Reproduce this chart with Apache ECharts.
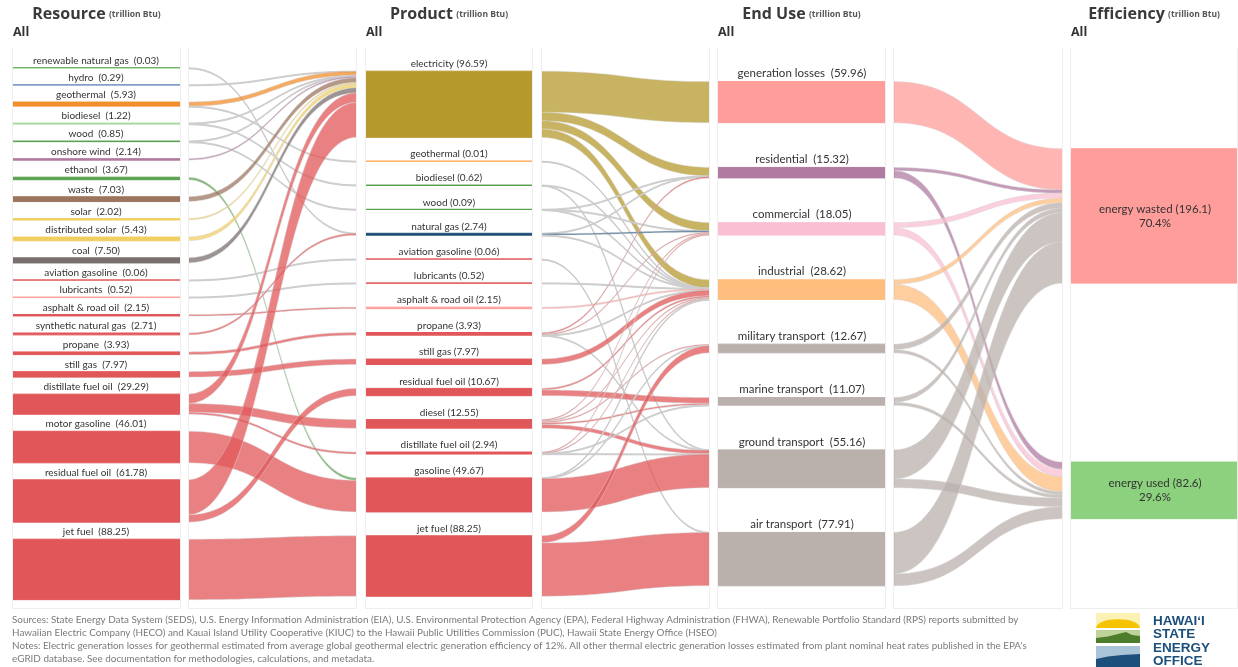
<!DOCTYPE html>
<html>
<head>
<meta charset="utf-8">
<title>Hawaii energy flows</title>
<script src="https://cdn.jsdelivr.net/npm/echarts@6/dist/echarts.min.js"></script>
<style>
  html, body { margin: 0; padding: 0; background: #fff; }
  #chart { width: 1238px; height: 667px; }
</style>
</head>
<body>
<div id="chart"></div>
<script>
// ---- data (trillion Btu) ----
const resourceNames = ['renewable natural gas', 'hydro', 'geothermal', 'biodiesel', 'wood', 'onshore wind', 'ethanol',
  'waste', 'solar', 'distributed solar', 'coal', 'aviation gasoline', 'lubricants', 'asphalt & road oil',
  'synthetic natural gas', 'propane', 'still gas', 'distillate fuel oil', 'motor gasoline', 'residual fuel oil', 'jet fuel'];
const resourceValues = [0.03, 0.29, 5.93, 1.22, 0.85, 2.14, 3.67, 7.03, 2.02, 5.43, 7.50, 0.06, 0.52, 2.15,
  2.71, 3.93, 7.97, 29.29, 46.01, 61.78, 88.25];

const productNames = ['electricity', 'geothermal', 'biodiesel', 'wood', 'natural gas', 'aviation gasoline', 'lubricants',
  'asphalt & road oil', 'propane', 'still gas', 'residual fuel oil', 'diesel', 'distillate fuel oil', 'gasoline', 'jet fuel'];
const productValues = [96.59, 0.01, 0.62, 0.09, 2.74, 0.06, 0.52, 2.15, 3.93, 7.97, 10.67, 12.55, 2.94, 49.67, 88.25];

const endUseNames = ['generation losses', 'residential', 'commercial', 'industrial', 'military transport',
  'marine transport', 'ground transport', 'air transport'];
const endUseValues = [59.96, 15.32, 18.05, 28.62, 12.67, 11.07, 55.16, 77.91];

const efficiencyNames = ['energy wasted', 'energy used'];
const efficiencyValues = [196.1, 82.6];
const efficiencyShares = ['70.4%', '29.6%'];

const resourceToProduct = [
  ['renewable natural gas', 'natural gas', 0.03],
  ['hydro', 'electricity', 0.29],
  ['geothermal', 'electricity', 5.92],
  ['geothermal', 'geothermal', 0.01],
  ['biodiesel', 'electricity', 0.60],
  ['biodiesel', 'biodiesel', 0.62],
  ['wood', 'electricity', 0.76],
  ['wood', 'wood', 0.09],
  ['onshore wind', 'electricity', 2.14],
  ['ethanol', 'gasoline', 3.67],
  ['waste', 'electricity', 7.03],
  ['solar', 'electricity', 2.02],
  ['distributed solar', 'electricity', 5.43],
  ['coal', 'electricity', 7.50],
  ['aviation gasoline', 'aviation gasoline', 0.06],
  ['lubricants', 'lubricants', 0.52],
  ['asphalt & road oil', 'asphalt & road oil', 2.15],
  ['synthetic natural gas', 'natural gas', 2.71],
  ['propane', 'propane', 3.93],
  ['still gas', 'still gas', 7.97],
  ['distillate fuel oil', 'electricity', 13.80],
  ['distillate fuel oil', 'diesel', 12.55],
  ['distillate fuel oil', 'distillate fuel oil', 2.94],
  ['motor gasoline', 'gasoline', 46.00],
  ['residual fuel oil', 'electricity', 51.10],
  ['residual fuel oil', 'residual fuel oil', 10.67],
  ['jet fuel', 'jet fuel', 88.25]
];

const productToEndUse = [
  ['electricity', 'generation losses', 59.96],
  ['electricity', 'residential', 12.5],
  ['electricity', 'commercial', 11.9],
  ['electricity', 'industrial', 12.23],
  ['geothermal', 'industrial', 0.01],
  ['biodiesel', 'industrial', 0.12],
  ['biodiesel', 'ground transport', 0.5],
  ['wood', 'residential', 0.02],
  ['wood', 'commercial', 0.05],
  ['wood', 'industrial', 0.02],
  ['natural gas', 'residential', 0.6],
  ['natural gas', 'commercial', 1.9],
  ['natural gas', 'industrial', 0.24],
  ['aviation gasoline', 'air transport', 0.06],
  ['lubricants', 'industrial', 0.52],
  ['asphalt & road oil', 'industrial', 2.15],
  ['propane', 'residential', 2.2],
  ['propane', 'commercial', 1.6],
  ['propane', 'industrial', 0.1],
  ['propane', 'ground transport', 0.03],
  ['still gas', 'industrial', 7.97],
  ['residual fuel oil', 'industrial', 2.4],
  ['residual fuel oil', 'marine transport', 8.27],
  ['diesel', 'commercial', 1.6],
  ['diesel', 'industrial', 1.5],
  ['diesel', 'military transport', 1.67],
  ['diesel', 'marine transport', 2.4],
  ['diesel', 'ground transport', 5.38],
  ['distillate fuel oil', 'commercial', 1.0],
  ['distillate fuel oil', 'industrial', 1.0],
  ['distillate fuel oil', 'marine transport', 0.4],
  ['distillate fuel oil', 'ground transport', 0.54],
  ['gasoline', 'industrial', 0.36],
  ['gasoline', 'military transport', 0.6],
  ['gasoline', 'ground transport', 48.71],
  ['jet fuel', 'military transport', 10.4],
  ['jet fuel', 'air transport', 77.85]
];

const endUseToEfficiency = [
  ['generation losses', 'energy wasted', 59.96],
  ['residential', 'energy wasted', 4.82],
  ['residential', 'energy used', 10.5],
  ['commercial', 'energy wasted', 7.3],
  ['commercial', 'energy used', 10.75],
  ['industrial', 'energy wasted', 6.5],
  ['industrial', 'energy used', 22.12],
  ['military transport', 'energy wasted', 8.07],
  ['military transport', 'energy used', 4.6],
  ['marine transport', 'energy wasted', 6.67],
  ['marine transport', 'energy used', 4.4],
  ['ground transport', 'energy wasted', 42.43],
  ['ground transport', 'energy used', 12.73],
  ['air transport', 'energy wasted', 60.41],
  ['air transport', 'energy used', 17.5]
];

// ---- colours ----
const RED = '#e15759';
const resourceColors = ['#6aaf5e', '#6f93c0', '#f28e2b', '#a3d39c', '#59a14f', '#b07aa1', '#59a14f',
  '#9c755f', '#f1ce63', '#f1ce63', '#79706e', RED, '#ff9d9a', RED, RED, RED, RED, RED, RED, RED, RED];
const productColors = ['#b6992d', '#ffa95a', '#59a14f', '#59a14f', '#1f4e79', RED, RED, '#ff9d9a',
  RED, RED, RED, RED, RED, RED, RED];
const endUseColors = ['#ff9d9a', '#b07aa1', '#fabfd2', '#ffbe7d', '#bab0ac', '#bab0ac', '#bab0ac', '#bab0ac'];
const efficiencyColors = ['#ff9d9a', '#8cd17d'];
const THIN_LINK = '#cdcdcd';   // hairline flows are drawn grey

// ---- layout ----
const W = 1238, H = 667;
const KY = 0.685;        // px per trillion Btu
const MID_Y = 333.7;     // every column is centred on this line
const GAP_BUDGET = 358;  // spacing per column, shared by its nodes
const NODE_W = 184;      // node + gutter; gutters are painted over below

const sum = arr => arr.reduce((a, b) => a + b, 0);
// ECharts scale = (H - (n-1)*gap) / sum of the busiest column -> pick gap so it equals KY
const nodeGap = (H - KY * sum(resourceValues)) / (resourceValues.length - 1);

function columnTops(values) {
  const gap = GAP_BUDGET / values.length;
  const total = sum(values) * KY + gap * (values.length - 1);
  let y = MID_Y - total / 2;
  return values.map(v => { const t = y; y += v * KY + gap; return t; });
}

const columns = [
  { key: 'R', names: resourceNames, values: resourceValues, colors: resourceColors, left: 4, sep: '  ', digits: 2, font: 10 },
  { key: 'P', names: productNames, values: productValues, colors: productColors, left: 357, sep: ' ', digits: 2, font: 10 },
  { key: 'E', names: endUseNames, values: endUseValues, colors: endUseColors, left: 710, sep: '  ', digits: 2, font: 11.5 },
  { key: 'F', names: efficiencyNames, values: efficiencyValues, colors: efficiencyColors, left: 1063, sep: ' ', digits: 1, font: 11.5 }
];

const labelText = {};
const nodes = [];
columns.forEach(col => {
  const tops = columnTops(col.values);
  col.names.forEach((n, i) => {
    const id = col.key + '|' + n;
    let txt = n + col.sep + '(' + col.values[i].toFixed(col.digits) + ')';
    if (col.key === 'F') txt += '\n' + efficiencyShares[i];
    labelText[id] = txt;
    const c = col.colors[i];
    const node = {
      name: id,
      value: col.values[i],
      localX: col.left / W,
      localY: tops[i] / H,
      itemStyle: { color: c, borderColor: c, borderWidth: 1 },
      label: { fontSize: col.font }
    };
    if (col.key === 'F') {
      node.label = { position: 'inside', fontSize: col.font, lineHeight: 14, align: 'center', color: '#333' };
    }
    nodes.push(node);
  });
});

function toLinks(rows, a, b) {
  return rows.map(r => {
    const link = { source: a + '|' + r[0], target: b + '|' + r[1], value: r[2] };
    if (r[2] < 1) {
      link.lineStyle = { color: THIN_LINK, opacity: 1, borderColor: THIN_LINK, borderWidth: 1 };
    }
    return link;
  });
}
const links = [].concat(
  toLinks(resourceToProduct, 'R', 'P'),
  toLinks(productToEndUse, 'P', 'E'),
  toLinks(endUseToEfficiency, 'E', 'F')
);

// ---- decorations: headers, panel frames, footer, logo ----
const panels = [[12, 181], [188, 357], [365, 533], [541, 710], [717, 886], [893, 1063], [1070, 1238]];
const gutters = [[0, 12], [181, 188], [357, 365], [533, 541], [710, 717], [886, 893], [1063, 1070]];
const headers = [['Resource', 96.5, 12], ['Product', 449, 365], ['End Use', 801.5, 717], ['Efficiency', 1154, 1070]];

const graphics = [];
gutters.forEach(g => graphics.push({
  type: 'rect', z: 50, silent: true,
  shape: { x: g[0], y: 40, width: g[1] - g[0], height: 575 },
  style: { fill: '#fff' }
}));
panels.forEach(p => graphics.push({
  type: 'polyline', z: 60, silent: true,
  shape: { points: [[p[0] + 0.5, 48], [p[0] + 0.5, 608.5], [p[1] - 0.5, 608.5], [p[1] - 0.5, 48]] },
  style: { stroke: '#eeeeee', lineWidth: 1, fill: null }
}));
headers.forEach(h => {
  graphics.push({
    type: 'text', z: 60,
    style: {
      x: h[1], y: 22, text: '{h|' + h[0] + '} {s|(trillion Btu)}',
      textAlign: 'center', align: 'center', textVerticalAlign: 'bottom', verticalAlign: 'bottom',
      rich: {
        h: { fontSize: 16, fontWeight: 'bold', fontFamily: 'Open Sans', fill: '#3a3a3a', color: '#3a3a3a', lineHeight: 20, verticalAlign: 'bottom' },
        s: { fontSize: 8.5, fontWeight: 'bold', fontFamily: 'Open Sans', fill: '#555', color: '#555', lineHeight: 11, verticalAlign: 'bottom', padding: [0, 0, 3, 0] }
      }
    }
  });
  graphics.push({
    type: 'text', z: 60,
    style: { x: h[2] + 1, y: 32, text: 'All', font: 'bold 12.5px "Open Sans"', fill: '#333',
      textVerticalAlign: 'middle', verticalAlign: 'middle' }
  });
});

const footer = [
  'Sources: State Energy Data System (SEDS), U.S. Energy Information Administration (EIA), U.S. Environmental Protection Agency (EPA), Federal Highway Administration (FHWA), Renewable Portfolio Standard (RPS) reports submitted by',
  'Hawaiian Electric Company (HECO) and Kauai Island Utility Cooperative (KIUC) to the Hawaii Public Utilities Commission (PUC), Hawaii State Energy Office (HSEO)',
  'Notes: Electric generation losses for geothermal estimated from average global geothermal electric generation efficiency of 12%. All other thermal electric generation losses estimated from plant nominal heat rates published in the EPA\'s',
  'eGRID database. See documentation for methodologies, calculations, and metadata.'
];
footer.forEach((t, i) => graphics.push({
  type: 'text', z: 60,
  style: { x: 12, y: 620 + i * 13, text: t, font: '9.9px Lato', fill: '#7a7a7a',
    textVerticalAlign: 'middle', verticalAlign: 'middle' }
}));

// HSEO logo
graphics.push(
  { type: 'rect', z: 60, shape: { x: 1096, y: 613, width: 44, height: 15 }, style: { fill: '#fbf1b5' } },
  { type: 'sector', z: 61, shape: { cx: 1118, cy: 628, r: 22, startAngle: Math.PI, endAngle: Math.PI * 2 },
    scaleY: 0.4, originX: 1118, originY: 628, style: { fill: '#f5c400' } },
  { type: 'rect', z: 60, shape: { x: 1096, y: 630, width: 44, height: 13 }, style: { fill: '#bdd39a' } },
  { type: 'polygon', z: 61, shape: { points: [[1096, 643], [1096, 638], [1108, 636.5], [1118, 634], [1126, 632], [1132, 635], [1140, 636], [1140, 643]] },
    style: { fill: '#4b7d2b' } },
  { type: 'rect', z: 60, shape: { x: 1096, y: 646, width: 44, height: 21 }, style: { fill: '#a9c3d7' } },
  { type: 'polygon', z: 61, shape: { points: [[1096, 667], [1096, 659], [1108, 656.5], [1122, 655], [1140, 654], [1140, 667]] },
    style: { fill: '#1c4f7c' } }
);
['HAWAI\u02BBI', 'STATE', 'ENERGY', 'OFFICE'].forEach((t, i) => graphics.push({
  type: 'text', z: 60,
  style: { x: 1153, y: 621 + i * 13.4, text: t, font: 'bold 13.5px "Liberation Sans"', fill: '#1c4f7c',
    textVerticalAlign: 'middle', verticalAlign: 'middle' }
}));

// ---- chart ----
const chart = echarts.init(document.getElementById('chart'));
chart.setOption({
  animation: false,
  backgroundColor: '#fff',
  graphic: { elements: graphics },
  series: [{
    type: 'sankey',
    left: 0, top: 0, width: W, height: H,
    nodeWidth: NODE_W,
    nodeGap: nodeGap,
    layoutIterations: 0,
    draggable: false,
    emphasis: { disabled: true },
    label: {
      position: 'top', distance: 1.5, color: '#333', fontFamily: 'Lato', fontSize: 10,
      formatter: p => labelText[p.name]
    },
    lineStyle: { color: 'source', opacity: 0.75, curveness: 0.5, borderColor: '#d4d4d4', borderWidth: 0.6 },
    data: nodes,
    links: links
  }]
});
</script>
</body>
</html>
